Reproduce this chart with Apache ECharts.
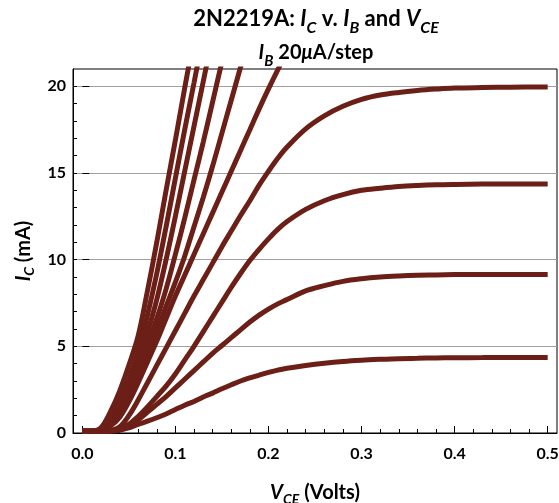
<!DOCTYPE html>
<html><head><meta charset="utf-8">
<script src="https://cdn.jsdelivr.net/npm/echarts@6/dist/echarts.min.js"></script>
<style>html,body{margin:0;padding:0;background:#fff}#c{width:559px;height:503px}</style>
</head><body><div id="c"></div>
<script>
// V_CE sample points (Volts)
const vce = [0, 0.01, 0.02, 0.03, 0.04, 0.05, 0.06, 0.07, 0.08, 0.09, 0.10, 0.11, 0.12, 0.13, 0.14, 0.15, 0.16, 0.17, 0.18, 0.19, 0.20, 0.21, 0.22, 0.24, 0.26, 0.28, 0.30, 0.32, 0.34, 0.36, 0.38, 0.40, 0.43, 0.46, 0.50];
// I_C (mA) for I_B = 20..200 uA
const ic20  = [0.1,0.1,0.1,0.1,0.15,0.3,0.5,0.68,0.88,1.1,1.35,1.6,1.82,2.08,2.3,2.55,2.78,3.0,3.18,3.34,3.5,3.63,3.74,3.9,4.03,4.13,4.2,4.25,4.29,4.31,4.33,4.34,4.35,4.36,4.36];
const ic40  = [0.1,0.1,0.1,0.12,0.2,0.4,0.75,1.2,1.65,2.1,2.6,3.1,3.6,4.1,4.6,5.05,5.5,5.95,6.4,6.8,7.15,7.45,7.7,8.2,8.5,8.75,8.9,9.0,9.06,9.1,9.12,9.14,9.15,9.15,9.15];
const ic60  = [0.1,0.1,0.1,0.12,0.22,0.5,0.95,1.5,2.1,2.7,3.4,4.2,5.0,5.85,6.7,7.55,8.4,9.2,9.95,10.6,11.2,11.75,12.2,12.9,13.4,13.75,14.0,14.12,14.22,14.28,14.32,14.34,14.36,14.37,14.37];
const ic80  = [0.1,0.1,0.1,0.15,0.35,1.0,1.9,2.9,3.9,4.9,5.9,6.9,7.9,8.85,9.8,10.75,11.65,12.55,13.4,14.3,15.1,15.85,16.5,17.55,18.3,18.85,19.25,19.5,19.65,19.76,19.84,19.9,19.93,19.95,19.96];
const ic100 = [0.1,0.1,0.15,0.4,0.9,1.8,2.9,4.1,5.3,6.6,7.9,9.1,10.3,11.5,12.7,13.9,15.1,16.3,17.5,18.7,19.85,20.95,22.0];
const ic120 = [0.1,0.1,0.15,0.5,1.1,2.1,3.3,4.6,5.9,7.3,8.7,10.2,11.9,13.6,15.4,17.3,19.2,21.1,23.0];
const ic140 = [0.1,0.1,0.2,0.6,1.3,2.4,3.7,5.1,6.6,8.3,10.3,12.4,14.6,16.8,19.1,21.4,23.5];
const ic160 = [0.1,0.1,0.2,0.7,1.5,2.7,4.1,5.8,7.7,10.0,12.5,15.1,17.7,20.3,22.9];
const ic180 = [0.1,0.1,0.25,0.8,1.8,3.1,4.7,6.8,9.2,11.9,14.7,17.5,20.2,23.0];
const ic200 = [0.1,0.1,0.3,1.2,2.4,3.9,5.6,8.2,11.0,14.0,16.9,19.9,22.8];
const curves = [ic20, ic40, ic60, ic80, ic100, ic120, ic140, ic160, ic180, ic200];

const xMajor = [0, 0.1, 0.2, 0.3, 0.4, 0.5];
const xAllTicks = [0,0.02,0.04,0.06,0.08,0.1,0.12,0.14,0.16,0.18,0.2,0.22,0.24,0.26,0.28,0.3,0.32,0.34,0.36,0.38,0.4,0.42,0.44,0.46,0.48,0.5];
const yMajor = [0, 5, 10, 15, 20];
const yAllTicks = [0,1,2,3,4,5,6,7,8,9,10,11,12,13,14,15,16,17,18,19,20];

const FONT = 'Lato';
const COL = '#6b1f17';
function mk(size, lh) { return {fontFamily: FONT, fontWeight: 'bold', fontSize: size, lineHeight: lh, color: '#000'}; }
const B = mk(22, 35), b = mk(20, 33);
const richTitle = {
  B: B,
  I: Object.assign({}, B, {fontStyle: 'italic'}),
  S: Object.assign(mk(16, 33), {fontStyle: 'italic', verticalAlign: 'bottom'}),
  b: b,
  i: Object.assign({}, b, {fontStyle: 'italic'}),
  s: Object.assign(mk(15, 31), {fontStyle: 'italic', verticalAlign: 'bottom'})
};
const nb = mk(20, 26);
const richName = {
  b: nb,
  i: Object.assign({}, nb, {fontStyle: 'italic'}),
  s: Object.assign(mk(14, 24), {fontStyle: 'italic', verticalAlign: 'bottom'})
};
const tickLabel = {fontFamily: FONT, fontWeight: 'bold', fontSize: 16, color: '#000'};

const series = curves.map((arr, k) => ({
  type: 'line',
  name: 'IB' + (k + 1) * 20,
  xAxisIndex: 0, yAxisIndex: 0,
  data: arr.map((v, i) => [vce[i], v]),
  showSymbol: false,
  smooth: 0.35,
  clip: true,
  lineStyle: {color: COL, width: 5},
  emphasis: {disabled: true},
  silent: true,
  animation: false
}));

const chart = echarts.init(document.getElementById('c'), null, {renderer: 'canvas'});
chart.setOption({
  animation: false,
  backgroundColor: '#fff',
  title: {
    text: '{B|2N2219A: }{I|I}{S|C}{B| v. }{I|I}{S|B}{B| and }{I|V}{S|CE}\n{i|I}{s|B}{b| 20}{i|μ}{b|A/step}',
    left: 316, top: 1, padding: 0, textAlign: 'center',
    textStyle: {rich: richTitle}
  },
  grid: {left: 73, right: 2, top: 69, bottom: 70, show: true, borderColor: '#000', borderWidth: 1,
         containLabel: false, outerBoundsMode: 'none'},
  xAxis: [{
    type: 'value', min: -0.01, max: 0.51, position: 'bottom', offset: 0,
    axisLine: {show: true, onZero: false, lineStyle: {color: '#000', width: 1}},
    axisTick: {show: true, inside: true, length: 4, customValues: xAllTicks, lineStyle: {color: '#000'}},
    axisLabel: Object.assign({customValues: xMajor, margin: 13, formatter: v => v.toFixed(1)}, tickLabel),
    splitLine: {show: false},
    name: '{i|V}{s|CE}{b| (Volts)}', nameLocation: 'middle', nameGap: 47,
    nameTextStyle: {rich: richName}
  }, {
    type: 'value', min: -0.01, max: 0.51, position: 'bottom', offset: 0,
    axisLine: {show: false},
    axisTick: {show: true, inside: true, length: 7, customValues: xMajor, lineStyle: {color: '#000'}},
    axisLabel: {show: false},
    splitLine: {show: false}
  }],
  yAxis: [{
    type: 'value', min: 0, max: 21, interval: 5, position: 'left', offset: 0,
    axisLine: {show: true, onZero: false, lineStyle: {color: '#000', width: 1}},
    axisTick: {show: true, inside: true, length: 4, customValues: yAllTicks, lineStyle: {color: '#000'}},
    axisLabel: Object.assign({customValues: yMajor, margin: 7}, tickLabel),
    splitLine: {show: false},
    name: '{i|I}{s|C}{b| (mA)}', nameLocation: 'middle', nameGap: 36, nameRotate: 90,
    nameTextStyle: {rich: richName}
  }, {
    type: 'value', min: 0, max: 21, interval: 5, position: 'left', offset: 0,
    axisLine: {show: false},
    axisTick: {show: true, inside: true, length: 7, customValues: yMajor, lineStyle: {color: '#000'}},
    axisLabel: {show: false},
    splitLine: {show: true, lineStyle: {color: '#a0a0a0', width: 1}}
  }],
  series: series
});
</script>
</body></html>
